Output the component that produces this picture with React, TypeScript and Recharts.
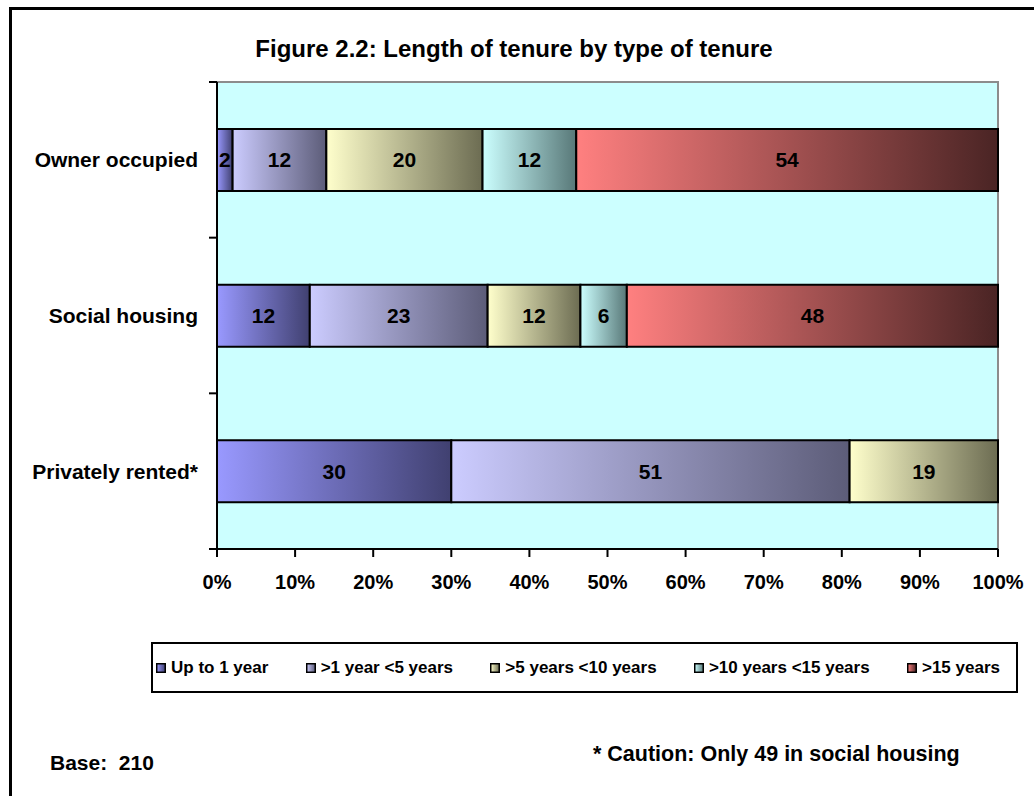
import React from 'react';
import {
  BarChart,
  Bar,
  XAxis,
  YAxis,
  ReferenceArea,
  LabelList
} from 'recharts';

const CATEGORIES = ['Owner occupied', 'Social housing', 'Privately rented*'];
const SERIES = ['Up to 1 year', '>1 year <5 years', '>5 years <10 years', '>10 years <15 years', '>15 years'];
const UP_TO_1 = [2, 12, 30];
const ONE_TO_5 = [12, 23, 51];
const FIVE_TO_10 = [20, 12, 19];
const TEN_TO_15 = [12, 6, 0];
const OVER_15 = [54, 48, 0];
const X_TICKS = [0, 0.1, 0.2, 0.3, 0.4, 0.5, 0.6, 0.7, 0.8, 0.9, 1];

const SERIES_VALUES = [UP_TO_1, ONE_TO_5, FIVE_TO_10, TEN_TO_15, OVER_15];
const KEYS = ['s1', 's2', 's3', 's4', 's5'];

// light -> dark horizontal gradients, like the Excel fill
const GRADIENTS = [
  ['#9999ff', '#404070'],
  ['#ccccff', '#5c5c78'],
  ['#ffffcc', '#6c6c52'],
  ['#ccffff', '#587878'],
  ['#ff8080', '#4a2424']
];

const FONT = '"Liberation Sans", Arial, sans-serif';
const W = 1034;
const H = 796;
const PLOT_LEFT = 217;
const PLOT_RIGHT = 998;
const PLOT_TOP = 82;
const PLOT_BOTTOM = 549;
const Y_AXIS_W = 210;
const X_AXIS_H = 40;

const chartData = CATEGORIES.map((name, i) => {
  const row: Record<string, string | number> = { name };
  KEYS.forEach((k, j) => {
    row[k] = SERIES_VALUES[j][i];
  });
  return row;
});

const CategoryTick = (props: any) => {
  const { y, payload, index } = props;
  const band = (PLOT_BOTTOM - PLOT_TOP) / CATEGORIES.length;
  return (
    <g>
      <text
        x={PLOT_LEFT - 19}
        y={y}
        dy="0.36em"
        textAnchor="end"
        fill="#000"
        style={{ fontFamily: FONT, fontSize: 21, fontWeight: 700 }}
      >
        {payload.value}
      </text>
      <line x1={PLOT_LEFT - 8} x2={PLOT_LEFT} y1={y - band / 2} y2={y - band / 2} stroke="#000" strokeWidth={2} />
      {index === CATEGORIES.length - 1 && (
        <line x1={PLOT_LEFT - 8} x2={PLOT_LEFT} y1={y + band / 2} y2={y + band / 2} stroke="#000" strokeWidth={2} />
      )}
    </g>
  );
};

export default function App() {
  return (
    <div
      style={{
        position: 'fixed',
        left: 0,
        top: 0,
        width: W,
        height: H,
        background: '#fff',
        overflow: 'hidden',
        fontFamily: FONT
      }}
    >
      <svg width={0} height={0} style={{ position: 'absolute' }}>
        <defs>
          {GRADIENTS.map(([from, to], i) => (
            <linearGradient key={i} id={`grad${i}`} x1="0" y1="0" x2="1" y2="0">
              <stop offset="0%" stopColor={from} />
              <stop offset="100%" stopColor={to} />
            </linearGradient>
          ))}
        </defs>
      </svg>

      {/* outer frame, only left and top edges are visible */}
      <div
        style={{
          position: 'absolute',
          left: 9,
          top: 7,
          width: 1100,
          height: 900,
          borderLeft: '3px solid #000',
          borderTop: '3px solid #000'
        }}
      />

      <div style={{ position: 'absolute', left: 0, top: 0 }}>
        <BarChart
          width={W}
          height={H}
          data={chartData}
          layout="vertical"
          stackOffset="expand"
          barSize={62}
          margin={{
            top: PLOT_TOP,
            right: W - PLOT_RIGHT,
            bottom: H - PLOT_BOTTOM - X_AXIS_H,
            left: PLOT_LEFT - Y_AXIS_W
          }}
        >
          <ReferenceArea x1={0} x2={1} fill="#ccffff" fillOpacity={1} stroke="#8c8c8c" strokeWidth={2} />
          <XAxis
            type="number"
            domain={[0, 1]}
            ticks={X_TICKS}
            interval={0}
            height={X_AXIS_H}
            tickFormatter={(v: number) => `${Math.round(v * 100)}%`}
            axisLine={{ stroke: '#000', strokeWidth: 2 }}
            tickLine={{ stroke: '#000', strokeWidth: 2 }}
            tickSize={8}
            tickMargin={18}
            tick={{ fill: '#000', fontSize: 20, fontWeight: 700, fontFamily: FONT }}
          />
          <YAxis
            type="category"
            dataKey="name"
            width={Y_AXIS_W}
            axisLine={{ stroke: '#000', strokeWidth: 2 }}
            tickLine={false}
            tick={<CategoryTick />}
          />
          {KEYS.map((k, i) => (
            <Bar
              key={k}
              dataKey={k}
              name={SERIES[i]}
              stackId="a"
              fill={`url(#grad${i})`}
              stroke="#000"
              strokeWidth={2}
              isAnimationActive={false}
            >
              <LabelList
                dataKey={k}
                position="center"
                formatter={(v: any) => (v ? v : '')}
                fill="#000"
                style={{ fontFamily: FONT, fontSize: 21, fontWeight: 700 }}
              />
            </Bar>
          ))}
        </BarChart>
      </div>

      {/* title and footnotes */}
      <svg
        width={W}
        height={H}
        style={{ position: 'absolute', left: 0, top: 0, pointerEvents: 'none' }}
      >
        <text x={514} y={57} textAnchor="middle" fill="#000" style={{ fontFamily: FONT, fontSize: 24, fontWeight: 700 }}>
          Figure 2.2: Length of tenure by type of tenure
        </text>
        <text x={50} y={770} fill="#000" style={{ fontFamily: FONT, fontSize: 21, fontWeight: 700, whiteSpace: 'pre' }}>
          {'Base:  210'}
        </text>
        <text x={593} y={761} fill="#000" style={{ fontFamily: FONT, fontSize: 21.5, fontWeight: 700 }}>
          * Caution: Only 49 in social housing
        </text>
      </svg>

      {/* legend */}
      <div
        style={{
          position: 'absolute',
          left: 151,
          top: 642,
          width: 844,
          height: 47,
          border: '2px solid #000',
          background: '#fff',
          display: 'flex',
          alignItems: 'center',
          justifyContent: 'space-between',
          padding: '0 16px 0 3px',
          boxSizing: 'content-box'
        }}
      >
        {SERIES.map((s, i) => (
          <div key={s} style={{ display: 'flex', alignItems: 'center', whiteSpace: 'pre' }}>
            <svg width={10} height={10} style={{ marginRight: 5 }}>
              <rect x={0.75} y={0.75} width={8.5} height={8.5} fill={`url(#grad${i})`} stroke="#000" strokeWidth={1.5} />
            </svg>
            <span style={{ fontSize: 17, fontWeight: 700, color: '#000' }}>{s}</span>
          </div>
        ))}
      </div>
    </div>
  );
}
